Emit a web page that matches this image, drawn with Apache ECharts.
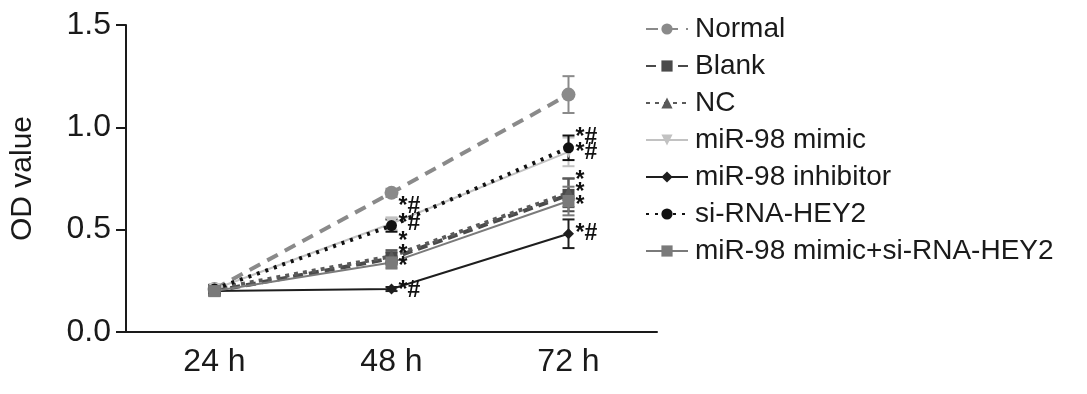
<!DOCTYPE html>
<html>
<head>
<meta charset="utf-8">
<script src="https://cdn.jsdelivr.net/npm/echarts@6/dist/echarts.min.js"></script>
<style>
  html, body { margin: 0; padding: 0; background: #fff; }
  #chart { width: 1087px; height: 394px; }
</style>
</head>
<body>
<div id="chart"></div>
<script>
// Data
const categories = ['24 h', '48 h', '72 h'];

const normal = [0.21, 0.68, 1.16];
const normalSd = [0.02, 0.02, 0.09];
const blank = [0.20, 0.36, 0.67];
const blankSd = [0.02, 0.03, 0.08];
const nc = [0.21, 0.37, 0.68];
const ncSd = [0.02, 0.03, 0.07];
const mimic = [0.21, 0.53, 0.88];
const mimicSd = [0.02, 0.03, 0.07];
const inhibitor = [0.20, 0.21, 0.48];
const inhibitorSd = [0.01, 0.01, 0.07];
const siRna = [0.21, 0.52, 0.90];
const siRnaSd = [0.02, 0.03, 0.06];
const mimicSi = [0.20, 0.34, 0.64];
const mimicSiSd = [0.02, 0.03, 0.07];

// significance marks: [category index, y, text]
const marks = [
  [1, 0.61, '*#'], [1, 0.53, '*#'], [1, 0.44, '*'], [1, 0.38, '*'], [1, 0.32, '*'], [1, 0.20, '*#'],
  [2, 0.95, '*#'], [2, 0.875, '*#'], [2, 0.74, '*'], [2, 0.68, '*'], [2, 0.615, '*'], [2, 0.48, '*#']
];

const groups = [
  { name: 'Normal', mean: normal, sd: normalSd, color: '#8a8a8a', width: 4, type: [12, 8], symbol: 'circle', size: 14 },
  { name: 'Blank', mean: blank, sd: blankSd, color: '#4a4a4a', width: 4, type: [10, 6], symbol: 'rect', size: 12 },
  { name: 'NC', mean: nc, sd: ncSd, color: '#5a5a5a', width: 4, type: [4, 5], symbol: 'triangle', size: 12 },
  { name: 'miR-98 mimic', mean: mimic, sd: mimicSd, color: '#c2c2c2', width: 2, type: 'solid', symbol: 'triangle', rotate: 180, size: 12 },
  { name: 'miR-98 inhibitor', mean: inhibitor, sd: inhibitorSd, color: '#1e1e1e', width: 2, type: 'solid', symbol: 'diamond', size: 11 },
  { name: 'si-RNA-HEY2', mean: siRna, sd: siRnaSd, color: '#111111', width: 4, type: [3, 6], symbol: 'circle', size: 11 },
  { name: 'miR-98 mimic+si-RNA-HEY2', mean: mimicSi, sd: mimicSiSd, color: '#7a7a7a', width: 2, type: 'solid', symbol: 'rect', size: 12 }
];

const chart = echarts.init(document.getElementById('chart'));

const errorBars = (g) => ({
  type: 'custom',
  name: g.name + ' SD',
  silent: true,
  z: 1,
  data: g.mean.map((m, i) => [i, m - g.sd[i], m + g.sd[i]]),
  renderItem: (params, api) => {
    const lo = api.coord([api.value(0), api.value(1)]);
    const hi = api.coord([api.value(0), api.value(2)]);
    const w = 6;
    const style = { stroke: g.color, lineWidth: 2 };
    return {
      type: 'group',
      children: [
        { type: 'line', shape: { x1: lo[0], y1: lo[1], x2: hi[0], y2: hi[1] }, style },
        { type: 'line', shape: { x1: lo[0] - w, y1: lo[1], x2: lo[0] + w, y2: lo[1] }, style },
        { type: 'line', shape: { x1: hi[0] - w, y1: hi[1], x2: hi[0] + w, y2: hi[1] }, style }
      ]
    };
  }
});

const lineSeries = groups.map((g) => ({
  type: 'line',
  name: g.name,
  data: g.mean,
  symbol: g.symbol,
  symbolSize: g.size,
  symbolRotate: g.rotate || 0,
  z: 3,
  lineStyle: { color: g.color, width: g.width, type: g.type },
  itemStyle: { color: g.color },
  emphasis: { disabled: true }
}));

chart.setOption({
  animation: false,
  textStyle: { fontFamily: 'Liberation Sans, Arial, sans-serif' },
  grid: { left: 126, right: 430, top: 25, bottom: 62, containLabel: false },
  legend: {
    data: groups.map((g) => g.name),
    orient: 'vertical',
    left: 640,
    top: 10,
    itemWidth: 42,
    itemHeight: 14,
    itemGap: 9,
    textStyle: { fontSize: 28, color: '#1a1a1a', padding: [0, 0, 0, 2] }
  },
  xAxis: {
    type: 'category',
    data: categories,
    boundaryGap: true,
    axisLine: { lineStyle: { color: '#1a1a1a', width: 2 } },
    axisTick: { alignWithLabel: true, length: 9, lineStyle: { color: '#1a1a1a', width: 2 } },
    axisLabel: { fontSize: 32, color: '#1a1a1a', margin: 14 }
  },
  yAxis: {
    type: 'value',
    min: 0,
    max: 1.5,
    interval: 0.5,
    name: 'OD value',
    nameLocation: 'middle',
    nameGap: 88,
    nameTextStyle: { fontSize: 30, color: '#1a1a1a' },
    splitLine: { show: false },
    axisLine: { show: true, lineStyle: { color: '#1a1a1a', width: 2 } },
    axisTick: { show: true, length: 10, lineStyle: { color: '#1a1a1a', width: 2 } },
    axisLabel: { fontSize: 32, color: '#1a1a1a', margin: 15, formatter: (v) => v.toFixed(1) }
  },
  series: [
    ...groups.map(errorBars),
    ...lineSeries,
    {
      type: 'custom',
      name: 'marks',
      silent: true,
      z: 5,
      data: marks.map((m) => [m[0], m[1]]),
      renderItem: (params, api) => {
        const p = api.coord([api.value(0), api.value(1)]);
        return {
          type: 'text',
          x: p[0] + 7,
          y: p[1],
          style: {
            text: marks[params.dataIndex][2],
            fill: '#111',
            font: 'bold 23px "Liberation Sans", Arial, sans-serif',
            verticalAlign: 'middle',
            align: 'left'
          }
        };
      }
    }
  ]
});
</script>
</body>
</html>
